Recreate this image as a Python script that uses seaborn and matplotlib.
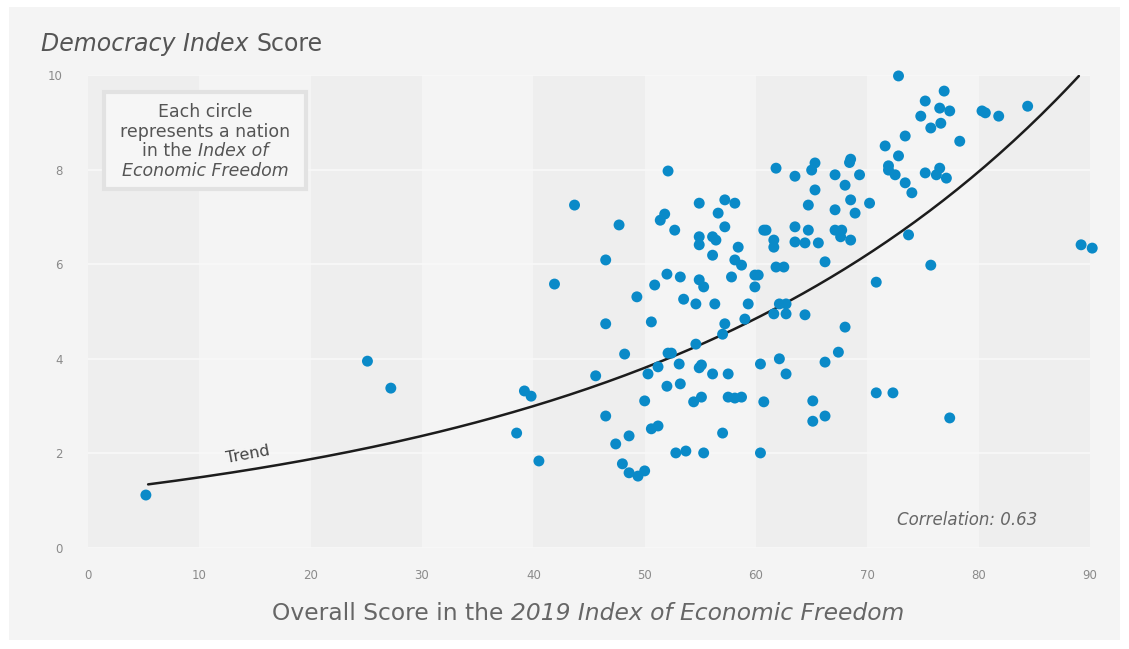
import numpy as np
import pandas as pd
import matplotlib
matplotlib.use("Agg")
import matplotlib.pyplot as plt
import seaborn as sns
from matplotlib.transforms import IdentityTransform
from matplotlib.patches import Rectangle

# Overall score in the 2019 Index of Economic Freedom (x) vs Democracy Index score (y)
freedom = [
    5.2, 25.1, 27.2, 38.5, 39.2, 39.8, 40.5, 41.9, 43.7, 47.7,
    46.5, 49.3, 46.5, 48.2, 45.6, 46.5, 48.6, 47.4, 48.0, 48.6,
    49.4, 50.0, 50.6, 50.3, 51.2, 52.1, 52.4, 53.1, 52.0, 53.2,
    50.0, 50.6, 51.2, 57.0, 52.8, 53.7, 55.3, 60.4, 54.6, 55.1,
    54.9, 56.1, 57.5, 54.4, 55.1, 57.5, 58.1, 58.7, 60.7, 60.4,
    57.0, 57.2, 59.0, 59.3, 56.3, 54.6, 53.5, 52.0, 53.2, 50.9,
    54.9, 55.3, 57.8, 59.9, 60.2, 59.9, 61.6, 62.7, 62.1, 62.7,
    56.1, 58.1, 58.7, 52.1, 61.8, 63.5, 54.9, 57.2, 58.1, 56.6,
    51.8, 51.4, 52.7, 57.2, 54.9, 54.9, 56.1, 56.4, 60.7, 60.9,
    61.6, 61.6, 63.5, 63.5, 58.4, 61.8, 62.5, 62.1, 62.7, 72.8,
    76.9, 75.2, 76.5, 77.4, 74.8, 75.7, 76.6, 73.4, 78.3, 71.6,
    72.8, 68.5, 68.4, 65.3, 65.0, 71.9, 71.9, 72.5, 76.5, 76.2,
    77.1, 75.2, 67.1, 69.3, 68.0, 73.4, 74.0, 65.3, 64.7, 68.5,
    70.2, 67.1, 68.9, 64.7, 67.1, 67.7, 67.6, 68.5, 64.4, 65.6,
    73.7, 66.2, 75.7, 70.8, 64.4, 68.0, 67.4, 66.2, 70.8, 72.3,
    65.1, 65.1, 66.2, 77.4, 80.3, 80.6, 81.8, 84.4, 89.2, 90.2,
]
democracy = [
    1.12, 3.95, 3.38, 2.43, 3.32, 3.21, 1.84, 5.58, 7.25, 6.83,
    6.09, 5.31, 4.74, 4.10, 3.64, 2.79, 2.37, 2.20, 1.78, 1.59,
    1.52, 1.63, 4.78, 3.68, 3.83, 4.12, 4.12, 3.89, 3.42, 3.47,
    3.11, 2.52, 2.58, 2.43, 2.01, 2.05, 2.01, 2.01, 4.31, 3.87,
    3.81, 3.68, 3.68, 3.09, 3.19, 3.19, 3.17, 3.19, 3.09, 3.89,
    4.52, 4.74, 4.84, 5.16, 5.16, 5.16, 5.26, 5.79, 5.73, 5.56,
    5.67, 5.52, 5.73, 5.77, 5.77, 5.52, 4.95, 4.95, 5.16, 5.16,
    6.19, 6.09, 5.98, 7.97, 8.03, 7.86, 7.29, 7.36, 7.29, 7.08,
    7.06, 6.93, 6.72, 6.79, 6.58, 6.41, 6.58, 6.51, 6.72, 6.72,
    6.51, 6.36, 6.79, 6.47, 6.36, 5.94, 5.94, 4.00, 3.68, 9.98,
    9.66, 9.45, 9.30, 9.24, 9.13, 8.88, 8.98, 8.71, 8.60, 8.50,
    8.29, 8.22, 8.15, 8.14, 7.99, 8.08, 7.99, 7.89, 8.03, 7.89,
    7.82, 7.93, 7.89, 7.89, 7.67, 7.72, 7.51, 7.57, 7.25, 7.36,
    7.29, 7.15, 7.08, 6.72, 6.72, 6.72, 6.58, 6.51, 6.45, 6.45,
    6.62, 6.05, 5.98, 5.62, 4.93, 4.67, 4.14, 3.93, 3.28, 3.28,
    3.11, 2.68, 2.79, 2.75, 9.24, 9.20, 9.13, 9.34, 6.41, 6.34,
]

# points
trend_x = [5.4, 28.1, 49.7, 70.1, 89.0]
trend_y = [1.35, 2.24, 3.83, 6.19, 9.98]

x_ticks = [0, 10, 20, 30, 40, 50, 60, 70, 80, 90]
y_ticks = [0, 2, 4, 6, 8, 10]
correlation = 0.63

df = pd.DataFrame({"freedom": freedom, "democracy": democracy})

sns.set_style("white")
plt.rcParams['font.family'] = ['DejaVu Sans']

W, H = 1129, 649
fig = plt.figure(figsize=(W / 100, H / 100), dpi=100, facecolor="white")
px = IdentityTransform()

# light grey panel behind everything
fig.patches.append(Rectangle((9, 9), 1111, 633, transform=px,
                             facecolor="#f4f4f4", edgecolor="none", zorder=-5))

ax = fig.add_axes([88 / W, 1 - 548 / H, (1090 - 88) / W, (548 - 75) / H])
ax.set_facecolor("none")
for s in ax.spines.values():
    s.set_visible(False)

# alternating decade bands (subtle)
for i, start in enumerate(x_ticks[:-1]):
    ax.axvspan(start, start + 10, color="#eeeeee" if i % 2 == 0 else "#f4f4f4",
               lw=0, zorder=0)
for yv in y_ticks:
    ax.axhline(yv, color="#f8f8f8", lw=1.2, zorder=0.5)

# smooth trend through the read points (log-quadratic)
coef = np.polyfit(trend_x, np.log(trend_y), 2)
tx = np.linspace(trend_x[0], trend_x[-1], 200)
ty = np.exp(np.polyval(coef, tx))
sns.lineplot(x=tx, y=ty, ax=ax, color="#1c1c1c", lw=1.8, zorder=2)

sns.scatterplot(data=df, x="freedom", y="democracy", ax=ax, color="#0a8ac8",
                s=62, edgecolor="none", zorder=3, clip_on=False, legend=False)

ax.set_xlim(0, 90)
ax.set_ylim(0, 10)
ax.set_xticks(x_ticks)
ax.set_yticks(y_ticks)
ax.tick_params(axis="both", length=0, labelsize=8.5, labelcolor="#8a8a8a")
ax.tick_params(axis="x", pad=15)
ax.tick_params(axis="y", pad=18)
ax.set_xlabel("")
ax.set_ylabel("")

ax.text(14.4, 1.97, "Trend", rotation=10.5, fontsize=11.5, color="#444444",
        ha="center", va="center", zorder=4)
ax.text(79.0, 0.59, f"Correlation: {correlation:.2f}", style="italic",
        fontsize=12, color="#666666", ha="center", va="center")

# annotation box
fig.patches.append(Rectangle((104, H - 189), 202, 97, transform=px,
                             facecolor="#f6f6f6", edgecolor="#e2e2e2", lw=3, zorder=5))

renderer = fig.canvas.get_renderer()


def rich_line(x, y_img, parts, size, color, ha="center"):
    """Draw text parts (text, style) side by side; x, y_img in image pixels."""
    probe1 = fig.text(0, 0, "a a", fontsize=size, transform=px)
    probe2 = fig.text(0, 0, "aa", fontsize=size, transform=px)
    space = probe1.get_window_extent(renderer).width - probe2.get_window_extent(renderer).width
    probe1.remove()
    probe2.remove()
    arts = [fig.text(0, H - y_img, t, fontsize=size, style=st, color=color,
                     transform=px, va="baseline", zorder=6) for t, st in parts]
    widths = [a.get_window_extent(renderer).width for a in arts]
    total = sum(widths) + space * (len(arts) - 1)
    start = x - total / 2 if ha == "center" else x
    for a, w in zip(arts, widths):
        a.set_x(start)
        start += w + space


rich_line(41, 51, [("Democracy Index", "italic"), ("Score", "normal")], 17, "#555555", ha="left")
rich_line(588, 620, [("Overall Score in the", "normal"),
                     ("2019 Index of Economic Freedom", "italic")], 16.8, "#666666")

box_lines = [
    [("Each circle", "normal")],
    [("represents a nation", "normal")],
    [("in the", "normal"), ("Index of", "italic")],
    [("Economic Freedom", "italic")],
]
for i, parts in enumerate(box_lines):
    rich_line(205, 117 + i * 19.7, parts, 12.5, "#555555")

fig.savefig("out.png", dpi=100, facecolor=fig.get_facecolor())
